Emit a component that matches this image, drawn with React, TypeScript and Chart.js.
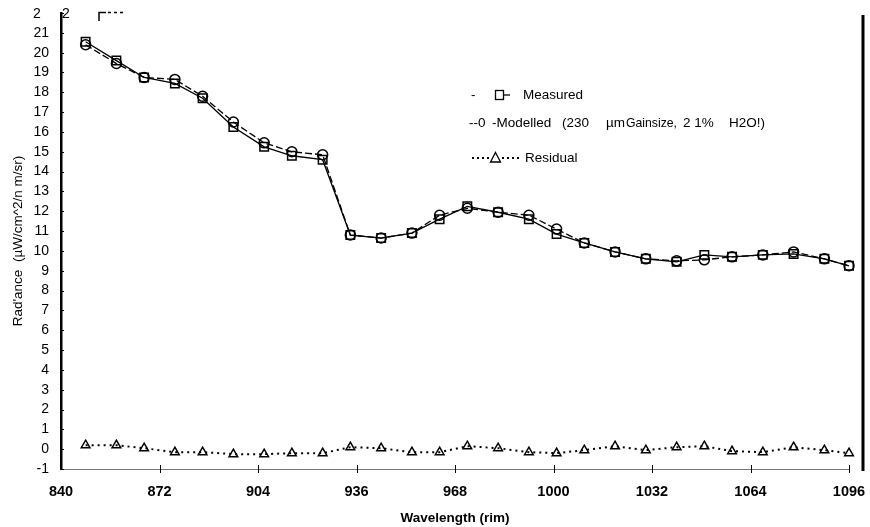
import React, { useEffect, useRef } from 'react';
import { Chart, registerables } from 'chart.js';

Chart.register(...registerables);

const wavelengths = [848, 858, 867, 877, 886, 896, 906, 915, 925, 934, 944, 954, 963, 972, 982, 992, 1001, 1010, 1020, 1030, 1040, 1049, 1058, 1068, 1078, 1088, 1096];
const measured = [20.55, 19.6, 18.75, 18.45, 17.7, 16.25, 15.25, 14.8, 14.6, 10.8, 10.65, 10.9, 11.6, 12.25, 11.95, 11.6, 10.85, 10.4, 9.95, 9.6, 9.45, 9.8, 9.7, 9.8, 9.85, 9.6, 9.25];
const modelled = [20.4, 19.45, 18.75, 18.65, 17.8, 16.5, 15.45, 15.0, 14.85, 10.8, 10.65, 10.9, 11.8, 12.15, 11.95, 11.8, 11.1, 10.4, 9.95, 9.6, 9.5, 9.55, 9.7, 9.8, 9.95, 9.6, 9.25];
const residual = [0.2, 0.2, 0.05, -0.15, -0.15, -0.25, -0.25, -0.2, -0.2, 0.1, 0.05, -0.15, -0.15, 0.15, 0.05, -0.15, -0.2, -0.05, 0.15, -0.05, 0.1, 0.15, -0.1, -0.15, 0.1, -0.05, -0.2];
const xTicks = [840, 872, 904, 936, 968, 1000, 1032, 1064, 1096];
const yMin = -1;
const yMax = 22;

const FONT = '"Liberation Sans", Arial, Helvetica, sans-serif';

const decorPlugin = {
  id: 'decor',
  afterDraw(chart: any) {
    const { ctx, chartArea } = chart;
    const xs = chart.scales.x;
    const ys = chart.scales.y;
    ctx.save();
    ctx.strokeStyle = '#000';
    ctx.fillStyle = '#000';
    // y inner ticks
    ctx.lineWidth = 1;
    for (let v = yMin; v <= yMax; v++) {
      const y = Math.round(ys.getPixelForValue(v)) + 0.5;
      ctx.beginPath();
      ctx.moveTo(chartArea.left, y);
      ctx.lineTo(chartArea.left + 3, y);
      ctx.stroke();
    }
    // x crosses
    xTicks.forEach((t) => {
      if (t === 840) return;
      const x = Math.round(xs.getPixelForValue(t)) + 0.5;
      ctx.beginPath();
      ctx.moveTo(x, chartArea.bottom - 4);
      ctx.lineTo(x, chartArea.bottom + 4);
      ctx.stroke();
    });
    // right border
    ctx.lineWidth = 3;
    ctx.beginPath();
    ctx.moveTo(863, 15);
    ctx.lineTo(863, 471);
    ctx.stroke();
    // top artifacts
    ctx.font = '14px ' + FONT;
    ctx.textBaseline = 'middle';
    ctx.textAlign = 'left';
    ctx.fillText('2', 33, 14);
    ctx.fillText('2', 62, 14);
    ctx.lineWidth = 1.5;
    ctx.beginPath();
    ctx.moveTo(99, 21);
    ctx.lineTo(99, 12.5);
    ctx.lineTo(106, 12.5);
    ctx.stroke();
    ctx.setLineDash([3, 3]);
    ctx.beginPath();
    ctx.moveTo(108, 12.5);
    ctx.lineTo(124, 12.5);
    ctx.stroke();
    ctx.setLineDash([]);

    // legend
    ctx.font = '13.5px ' + FONT;
    ctx.lineWidth = 1.3;
    // row 1
    ctx.fillText('-', 471, 95);
    ctx.strokeRect(495.5, 90.5, 8, 9);
    ctx.beginPath();
    ctx.moveTo(503, 95);
    ctx.lineTo(510, 95);
    ctx.stroke();
    ctx.fillText('Measured', 523, 95);
    // row 2
    ctx.fillText('--0', 469, 123);
    ctx.fillText('-Modelled', 492, 123);
    ctx.fillText('(230', 562, 123);
    ctx.fillText('\u00b5m', 606, 123);
    ctx.fillText('Gainsize,', 626, 123, 51);
    ctx.fillText('2 1%', 683, 123, 37);
    ctx.fillText('H2O!)', 729, 123);
    // row 3
    ctx.setLineDash([2, 3]);
    ctx.lineWidth = 2;
    ctx.beginPath();
    ctx.moveTo(472, 158);
    ctx.lineTo(489, 158);
    ctx.moveTo(502, 158);
    ctx.lineTo(521, 158);
    ctx.stroke();
    ctx.setLineDash([]);
    ctx.lineWidth = 1.3;
    ctx.beginPath();
    ctx.moveTo(495.5, 152.5);
    ctx.lineTo(500.5, 162);
    ctx.lineTo(490.5, 162);
    ctx.closePath();
    ctx.stroke();
    ctx.fillText('Residual', 525, 158);
    ctx.restore();
  },
};

export default function App() {
  const ref = useRef<HTMLCanvasElement>(null);
  useEffect(() => {
    if (!ref.current) return;
    const pts = (arr: number[]) => wavelengths.map((w, i) => ({ x: w, y: arr[i] }));
    const chart = new Chart(ref.current, {
      type: 'line',
      data: {
        datasets: [
          {
            label: 'Residual',
            data: pts(residual),
            borderColor: '#000',
            borderWidth: 2,
            borderDash: [2, 4],
            pointStyle: 'triangle',
            pointRadius: 5,
            pointBorderWidth: 1.5,
            pointBackgroundColor: 'rgba(0,0,0,0)',
            pointBorderColor: '#000',
            clip: false,
          },
          {
            label: 'Modelled',
            data: pts(modelled),
            borderColor: '#000',
            borderWidth: 1.3,
            borderDash: [7, 3],
            pointStyle: 'circle',
            pointRadius: 5,
            pointBorderWidth: 1.5,
            pointBackgroundColor: 'rgba(0,0,0,0)',
            pointBorderColor: '#000',
            clip: false,
          },
          {
            label: 'Measured',
            data: pts(measured),
            borderColor: '#000',
            borderWidth: 1.3,
            pointStyle: 'rect',
            pointRadius: 6,
            pointBorderWidth: 1.5,
            pointBackgroundColor: 'rgba(0,0,0,0)',
            pointBorderColor: '#000',
            clip: false,
          },
        ],
      },
      options: {
        animation: false,
        responsive: false,
        devicePixelRatio: 1,
        layout: { padding: { left: 0, right: 21, top: 13, bottom: 0 } },
        plugins: { legend: { display: false }, tooltip: { enabled: false } },
        scales: {
          x: {
            type: 'linear',
            min: 840,
            max: 1096,
            afterBuildTicks: (s: any) => {
              s.ticks = xTicks.map((v) => ({ value: v }));
            },
            afterFit: (s: any) => {
              s.height = 58;
              s.paddingLeft = 0;
              s.paddingRight = 0;
            },
            grid: { display: false, drawTicks: false },
            border: { display: true, color: '#777', width: 1, dash: [9, 5] },
            ticks: {
              color: '#000',
              padding: 14,
              maxRotation: 0,
              autoSkip: false,
              font: { family: FONT, size: 14.5, weight: 'bold' },
              callback: (v: any) => String(v),
            },
            title: {
              display: true,
              text: 'Wavelength (rim)',
              color: '#000',
              font: { family: FONT, size: 13.5, weight: 'bold' },
              padding: { top: 0, bottom: 1 },
            },
          },
          y: {
            type: 'linear',
            min: yMin,
            max: yMax,
            afterFit: (s: any) => {
              s.width = 61;
              s.paddingTop = 0;
              s.paddingBottom = 0;
            },
            grid: { display: false, drawTicks: false },
            border: { display: true, color: '#000', width: 2.5 },
            ticks: {
              stepSize: 1,
              color: '#000',
              padding: 12,
              autoSkip: false,
              font: { family: FONT, size: 14 },
              callback: (v: any) => (v === yMax ? '' : String(v)),
            },
            title: {
              display: true,
              text: "Rad'ance  (\u00b5W/cm^2/n m/sr)",
              color: '#000',
              font: { family: FONT, size: 13.5 },
              padding: { top: 10, bottom: 0 },
            },
          },
        },
      },
      plugins: [decorPlugin],
    });
    return () => chart.destroy();
  }, []);
  return (
    <div style={{ position: 'fixed', left: 0, top: 0, width: 870, height: 527, background: '#fff' }}>
      <canvas ref={ref} width={870} height={527} style={{ width: 870, height: 527, display: 'block' }} />
    </div>
  );
}
